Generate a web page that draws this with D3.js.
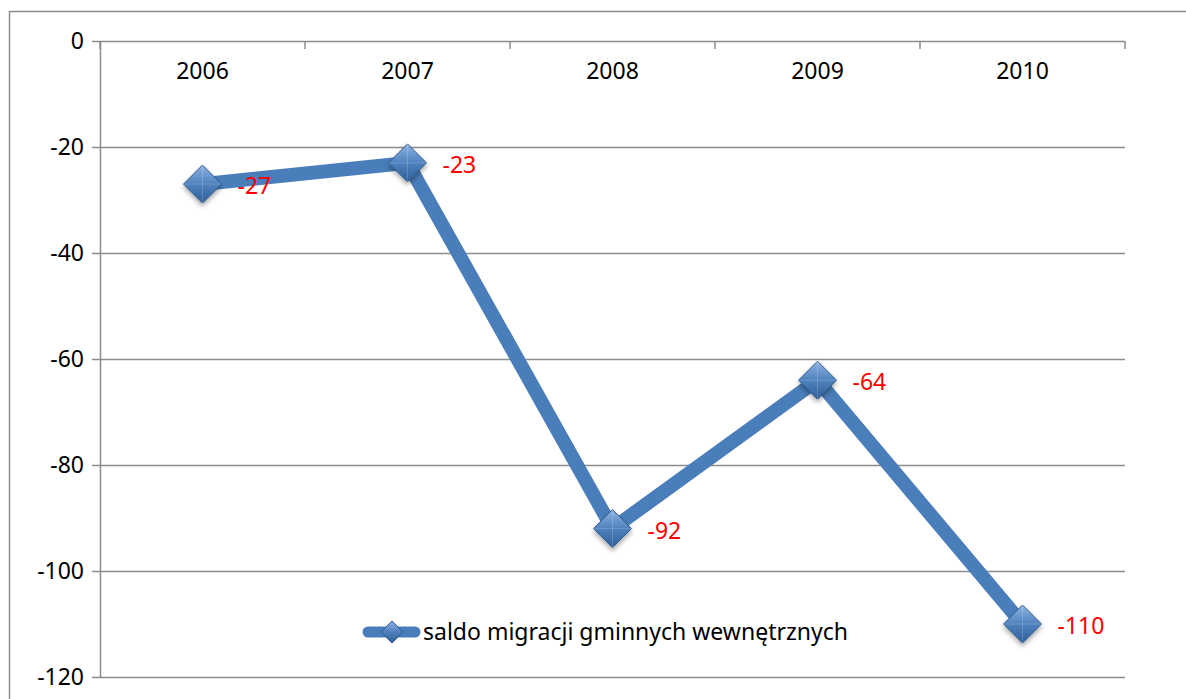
<!DOCTYPE html>
<html lang="pl">
<head>
    <meta charset="UTF-8">
    <script src="https://cdn.jsdelivr.net/npm/d3@7/dist/d3.min.js"></script>
    <title>saldo migracji</title>
    <style>
        body { margin: 0; background: #fff; }
        text { font-family: 'Noto Sans', 'Open Sans', sans-serif; }
    </style>
</head>
<body>
    <svg id="mainsvg" width="1186" height="699"></svg>
    <script>
        const years = ['2006', '2007', '2008', '2009', '2010']
        const saldo = [-27, -23, -92, -64, -110]
        const yTicks = [0, -20, -40, -60, -80, -100, -120]
        const seriesName = 'saldo migracji gminnych wewnętrznych'

        const svg = d3.select('#mainsvg')
        const margin = { top: 41, left: 100, right: 61, bottom: 22 }
        const width = +svg.attr('width')
        const height = +svg.attr('height')

        // outer chart border, runs off the right and bottom
        svg.append('rect')
            .attr('x', 9.5).attr('y', 11.5)
            .attr('width', 1200).attr('height', 720)
            .attr('fill', 'none').attr('stroke', '#8c8c8c').attr('stroke-width', 1.5)

        const xScale = d3.scaleBand()
            .domain(years)
            .range([margin.left, width - margin.right])
        const yScale = d3.scaleLinear()
            .domain([-120, 0])
            .range([height - margin.bottom, margin.top])

        const defs = svg.append('defs')
        const grad = defs.append('linearGradient').attr('id', 'dgrad')
            .attr('x1', '0').attr('y1', '0').attr('x2', '0').attr('y2', '1')
        grad.append('stop').attr('offset', '0%').attr('stop-color', '#8fb4e3')
        grad.append('stop').attr('offset', '50%').attr('stop-color', '#4f81bd')
        grad.append('stop').attr('offset', '100%').attr('stop-color', '#2f5f98')
        const shadow = defs.append('filter').attr('id', 'shadow')
            .attr('x', '-50%').attr('y', '-50%').attr('width', '200%').attr('height', '200%')
        shadow.append('feDropShadow').attr('dx', 0).attr('dy', 3)
            .attr('stdDeviation', 2.5).attr('flood-color', '#000').attr('flood-opacity', 0.35)

        // gridlines + y axis
        const yAxis = d3.axisLeft(yScale)
            .tickValues(yTicks)
            .tickFormat(d => String(d))
            .tickSize(-(width - margin.left - margin.right))
            .tickSizeOuter(0)
            .tickPadding(16)
        const gy = svg.append('g').attr('transform', `translate(${margin.left},0)`).call(yAxis)
        gy.select('.domain').attr('stroke', '#8c8c8c').attr('stroke-width', 1.5)
        gy.selectAll('.tick line').attr('stroke', '#8c8c8c').attr('stroke-width', 1.5)
            .attr('x1', -8)
        gy.selectAll('.tick text').attr('font-size', 23).attr('fill', '#000')

        // category axis at the top (value 0), ticks going down
        const xAxis = d3.axisBottom(xScale).tickSize(0).tickPadding(22)
        const gx = svg.append('g').attr('transform', `translate(0,${yScale(0)})`).call(xAxis)
        gx.select('.domain').remove()
        gx.selectAll('.tick text').attr('font-size', 23).attr('fill', '#000')
        const bounds = years.map(d => xScale(d)).concat([xScale.range()[1]])
        svg.append('g').selectAll('line').data(bounds).join('line')
            .attr('x1', d => d).attr('x2', d => d)
            .attr('y1', yScale(0)).attr('y2', yScale(0) + 8)
            .attr('stroke', '#8c8c8c').attr('stroke-width', 1.5)

        const pts = years.map((y, i) => ({ year: y, value: saldo[i] }))
        const cx = d => xScale(d.year) + xScale.bandwidth() / 2

        const line = d3.line().x(cx).y(d => yScale(d.value))
        svg.append('path').datum(pts)
            .attr('d', line)
            .attr('fill', 'none')
            .attr('stroke', '#4a7ebb')
            .attr('stroke-width', 14)
            .attr('stroke-linejoin', 'round')

        const diamond = r => `M0,${-r}L${r},0L0,${r}L${-r},0Z`
        const markers = svg.append('g').selectAll('g').data(pts).join('g')
            .attr('transform', d => `translate(${cx(d)},${yScale(d.value)})`)
        markers.append('path').attr('d', diamond(19))
            .attr('fill', 'url(#dgrad)').attr('stroke', '#2c5a8e').attr('stroke-width', 1)
            .attr('filter', 'url(#shadow)')
        markers.append('path').attr('d', 'M-19,0L19,0M0,-19L0,19')
            .attr('stroke', '#ffffff').attr('stroke-opacity', 0.18).attr('stroke-width', 1)

        svg.append('g').selectAll('text').data(pts).join('text')
            .attr('x', d => cx(d) + 35)
            .attr('y', d => yScale(d.value) + 2)
            .attr('dy', '0.35em')
            .attr('font-size', 23)
            .attr('fill', '#ff0000')
            .text(d => d.value)

        // legend
        const lg = svg.append('g').attr('transform', 'translate(363,632)')
        lg.append('line').attr('x1', 5).attr('x2', 52).attr('y1', 0).attr('y2', 0)
            .attr('stroke', '#4a7ebb').attr('stroke-width', 11).attr('stroke-linecap', 'round')
        lg.append('path').attr('d', diamond(11)).attr('transform', 'translate(29,0)')
            .attr('fill', 'url(#dgrad)').attr('stroke', '#2c5a8e').attr('stroke-width', 1)
        lg.append('text').attr('x', 60).attr('dy', '0.35em')
            .attr('font-size', 23).attr('fill', '#000')
            .text(seriesName)
    </script>
</body>
</html>
